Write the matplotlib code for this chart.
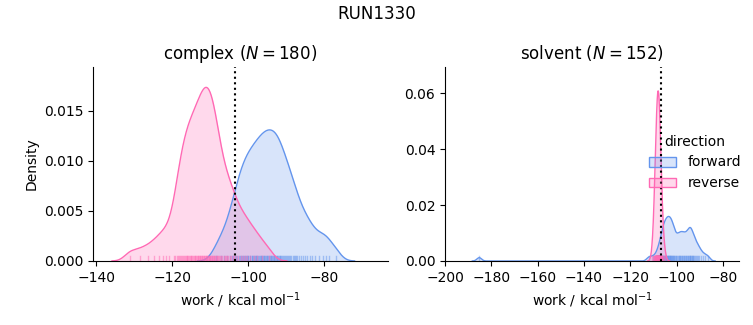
import numpy as np
import matplotlib
matplotlib.use("Agg")
import matplotlib.pyplot as plt
from matplotlib.patches import Patch

# work values (kcal/mol)
complex_forward = [
    -108.5, -107.2, -106.3, -105.5,
    -104.8, -104.3, -103.9, -103.5, -103.1,
    -102.8, -102.5, -102.2, -101.9, -101.6, -101.3, -101.05,
    -100.9, -100.6, -100.4, -100.1, -99.9, -99.6, -99.4, -99.1,
    -98.9, -98.7, -98.5, -98.2, -98.0, -97.8, -97.6, -97.4, -97.15,
    -96.9, -96.7, -96.5, -96.3, -96.1, -95.9, -95.7, -95.5, -95.3, -95.1,
    -94.9, -94.7, -94.5, -94.3, -94.1, -93.9, -93.7, -93.5, -93.3, -93.1,
    -92.9, -92.7, -92.5, -92.3, -92.1, -91.9, -91.7, -91.5, -91.3, -91.1,
    -90.8, -90.5, -90.3, -90.0, -89.8, -89.5, -89.3, -89.05,
    -88.7, -88.3, -88.0, -87.7, -87.4, -87.1,
    -86.6, -86.0, -85.5, -85.1,
    -84.5, -83.8, -83.2, -82.4, -81.3, -80.4, -79.5, -78.6, -76.8,
]
complex_reverse = [
    -131.0, -128.4,
    -126.3, -124.7, -123.4, -122.4, -121.5, -120.7,
    -119.6, -119.1, -118.7, -118.4, -118.1, -117.8, -117.6, -117.35, -117.1,
    -116.85, -116.6, -116.4, -116.2, -115.95, -115.7, -115.5, -115.3, -115.1,
    -114.9, -114.7, -114.5, -114.3, -114.1, -113.9, -113.7, -113.5, -113.3, -113.1,
    -112.9, -112.75, -112.55, -112.4, -112.2, -112.05, -111.85, -111.7, -111.5,
    -111.35, -111.2, -111.05,
    -110.9, -110.75, -110.6, -110.4, -110.25, -110.1, -109.9, -109.75, -109.6,
    -109.4, -109.25, -109.1,
    -108.9, -108.7, -108.5, -108.3, -108.1, -107.9, -107.7, -107.45, -107.2,
    -106.8, -106.45, -106.1, -105.8, -105.5, -105.2,
    -104.8, -104.4, -104.0, -103.6, -103.2,
    -102.6, -102.0, -101.4, -100.8, -100.2,
    -99.4, -98.5, -97.6, -96.4, -94.6,
]
solvent_forward = [
    -185.2,
    -112.0, -110.3, -108.8, -108.0, -107.5,
    -107.0, -106.7, -106.4, -106.15, -105.9,
    -105.7, -105.5, -105.3, -105.1, -104.9, -104.7, -104.5, -104.3, -104.1, -103.95,
    -103.8, -103.6, -103.45, -103.25, -103.05, -102.85, -102.7, -102.5, -102.3,
    -102.15, -101.95, -101.75, -101.55,
    -101.35, -101.1, -100.9, -100.4, -100.15, -99.9, -99.4,
    -99.15, -98.9, -98.65,
    -98.4, -98.1, -97.8, -97.5, -97.25, -97.0, -96.7, -96.4, -96.1, -95.8,
    -95.5, -95.2, -94.9, -94.65, -94.4, -94.25,
    -94.1, -93.8, -93.6, -93.45, -93.1, -92.8, -92.45, -92.1, -91.7, -91.3, -90.8,
    -90.3, -89.7,
    -88.8, -87.7, -86.4,
]
solvent_reverse = [
    -110.5, -110.1, -109.8, -109.7, -109.55, -109.45, -109.4, -109.3, -109.2, -109.15,
    -109.1, -109.05, -109.0, -108.9, -108.85, -108.8, -108.8, -108.75, -108.7, -108.65,
    -108.6, -108.55, -108.55, -108.5, -108.45, -108.4, -108.4, -108.35, -108.3, -108.3,
    -108.25, -108.2, -108.2, -108.15, -108.1, -108.1, -108.05, -108.0,
    -107.95, -107.9, -107.9, -107.85, -107.8, -107.8, -107.75, -107.7, -107.7, -107.65,
    -107.6, -107.6, -107.55, -107.5, -107.45, -107.45, -107.4, -107.35, -107.3, -107.25,
    -107.2, -107.2, -107.15, -107.1, -107.0, -106.95, -106.9, -106.85, -106.8, -106.7,
    -106.6, -106.55, -106.45, -106.3, -106.15, -105.95, -105.6, -105.1,
]

# vertical dotted reference lines
complex_ref = -103.4
solvent_ref = -106.6

FWD = "#6495ED"
REV = "#FF69B4"


def kde(samples, bw, weight, npts=500):
    s = np.asarray(samples)
    x = np.linspace(s.min() - 3 * bw, s.max() + 3 * bw, npts)
    d = np.exp(-0.5 * ((x[:, None] - s[None, :]) / bw) ** 2).sum(axis=1)
    d = d / (len(s) * bw * np.sqrt(2 * np.pi))
    return x, d * weight


def draw(ax, samples, color, bw, weight):
    x, y = kde(samples, bw, weight)
    ax.fill_between(x, 0, y, color=color, alpha=0.25, lw=0)
    ax.plot(x, y, color=color, lw=1)
    for v in samples:
        ax.axvline(v, ymin=0, ymax=0.025, color=color, lw=1, alpha=0.5)


fig = plt.figure(figsize=(7.53, 3.25), dpi=100)
ax1 = fig.add_axes([93 / 753, 1 - 261 / 325, 295 / 753, 194 / 325])
ax2 = fig.add_axes([445 / 753, 1 - 261 / 325, 294 / 753, 194 / 325])

draw(ax1, complex_forward, FWD, 1.6, 0.239)
draw(ax1, complex_reverse, REV, 1.6, 0.27)
ax1.axvline(complex_ref, color="k", ls=":", lw=1.5)
ax1.set_xlim(-140.8, -63.2)
ax1.set_ylim(0, 0.0194)
ax1.set_yticks([0, 0.005, 0.01, 0.015])
ax1.set_title("complex ($N = 180$)")
ax1.set_ylabel("Density")
ax1.set_xlabel("work / kcal mol$^{-1}$")

draw(ax2, solvent_forward, FWD, 1.0, 0.225)
draw(ax2, solvent_reverse, REV, 0.7, 0.19)
ax2.axvline(solvent_ref, color="k", ls=":", lw=1.5)
ax2.set_xlim(-200, -73.1)
ax2.set_ylim(0, 0.0693)
ax2.set_xticks([-200, -180, -160, -140, -120, -100, -80])
ax2.set_title("solvent ($N = 152$)")
ax2.set_xlabel("work / kcal mol$^{-1}$")

for ax in (ax1, ax2):
    ax.spines["top"].set_visible(False)
    ax.spines["right"].set_visible(False)

handles = [Patch(facecolor=(0.392, 0.584, 0.929, 0.25), edgecolor=FWD),
           Patch(facecolor=(1.0, 0.412, 0.706, 0.25), edgecolor=REV)]
fig.legend(handles, ["forward", "reverse"], title="direction", frameon=False,
           loc="center left", bbox_to_anchor=(636 / 753, 0.5))

fig.suptitle("RUN1330", y=0.985)
fig.savefig("out.png", dpi=100)
